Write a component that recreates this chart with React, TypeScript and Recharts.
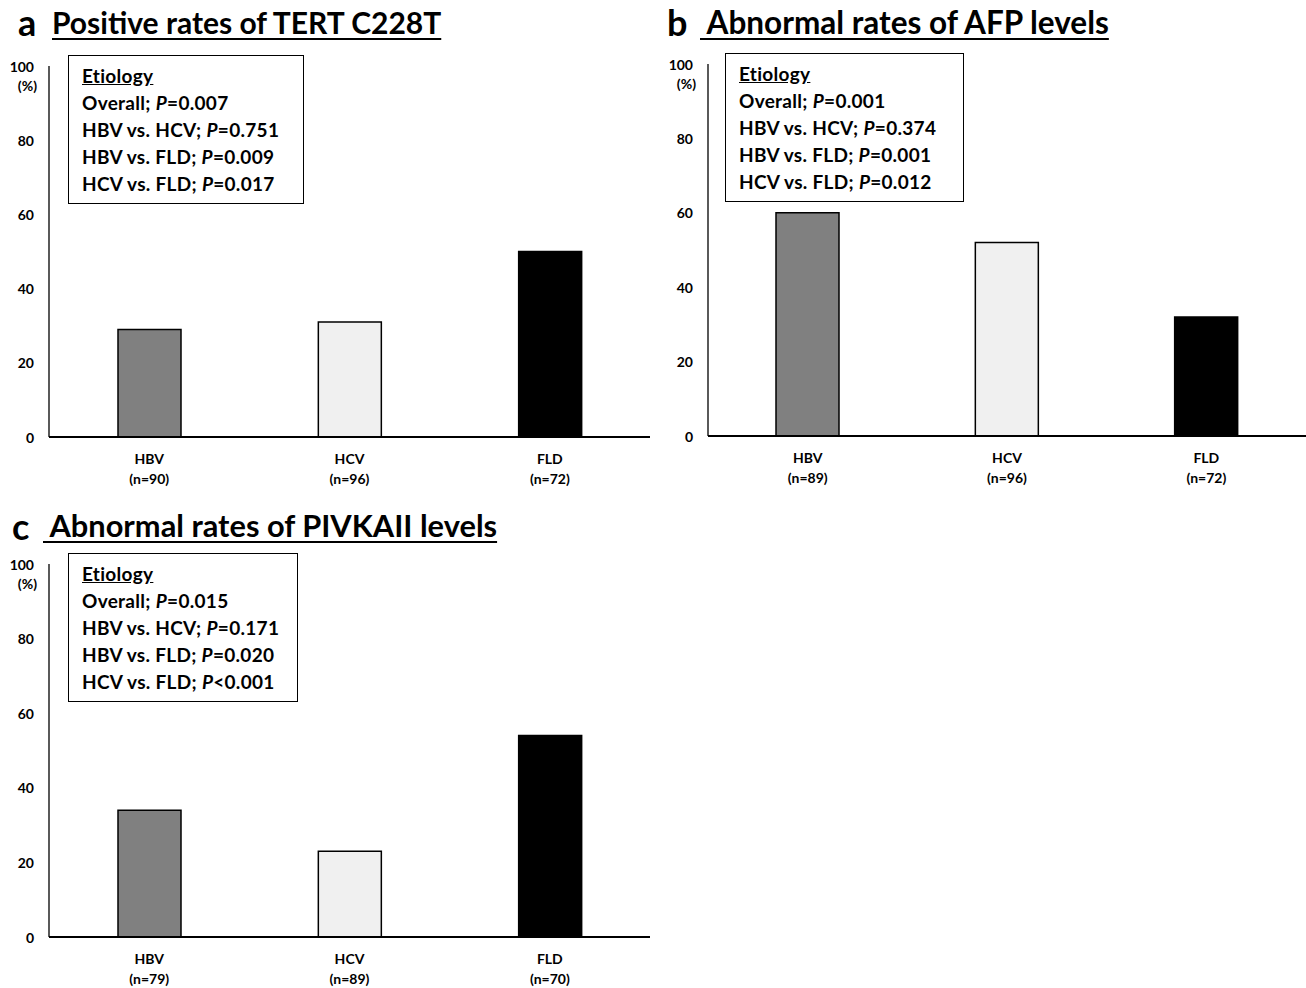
import { BarChart, Bar, XAxis, YAxis, Cell } from 'recharts';

const categories = ['HBV', 'HCV', 'FLD'];
const barColors = ['#808080', '#f0f0f0', '#000000'];
const yTicks = [0, 20, 40, 60, 80, 100];

// panel a: TERT C228T
const tertN = [90, 96, 72];
const tertRates = [29, 31, 50];
const tertP = [
  ['Overall; ', '=0.007'],
  ['HBV vs. HCV; ', '=0.751'],
  ['HBV vs. FLD; ', '=0.009'],
  ['HCV vs. FLD; ', '=0.017'],
];

// panel b: AFP
const afpN = [89, 96, 72];
const afpRates = [60, 52, 32];
const afpP = [
  ['Overall; ', '=0.001'],
  ['HBV vs. HCV; ', '=0.374'],
  ['HBV vs. FLD; ', '=0.001'],
  ['HCV vs. FLD; ', '=0.012'],
];

// panel c: PIVKA-II
const pivkaN = [79, 89, 70];
const pivkaRates = [34, 23, 54];
const pivkaP = [
  ['Overall; ', '=0.015'],
  ['HBV vs. HCV; ', '=0.171'],
  ['HBV vs. FLD; ', '=0.020'],
  ['HCV vs. FLD; ', '<0.001'],
];

const FONT = 'Lato, "Open Sans", sans-serif';

function YTick(props: any) {
  const { x, y, payload } = props;
  const v = payload.value;
  return (
    <g>
      <text x={x} y={y} textAnchor="end" dominantBaseline="central" fontSize={14} fontWeight={700} fill="#000" fontFamily={FONT}>
        {v}
      </text>
      {v === 100 && (
        <text x={x + 3} y={y + 19} textAnchor="end" dominantBaseline="central" fontSize={14} fontWeight={700} fill="#000" fontFamily={FONT}>
          (%)
        </text>
      )}
    </g>
  );
}

function makeXTick(ns: number[]) {
  return function XTick(props: any) {
    const { x, y, payload } = props;
    return (
      <g>
        <text x={x} y={y} textAnchor="middle" fontSize={14} fontWeight={700} fill="#000" fontFamily={FONT}>
          <tspan x={x} dy={19}>{payload.value}</tspan>
          <tspan x={x} dy={20}>(n={ns[payload.index]})</tspan>
        </text>
      </g>
    );
  };
}

interface PanelProps {
  letter: string;
  title: string;
  titleSize: number;
  titleLeft: number;
  letterLeft: number;
  rates: number[];
  ns: number[];
  pvals: string[][];
  left: number;
  top: number;
  width: number;
  axisW: number;
  plotTop: number;
  plotBottom: number;
  boxLeft: number;
  boxW: number;
}

function Panel(p: PanelProps) {
  const { letter, title, titleSize, titleLeft, letterLeft, rates, ns, pvals, left, top, width, axisW, plotTop, plotBottom, boxLeft, boxW } = p;
  const data = categories.map((c, i) => ({ name: c, value: rates[i] }));
  const height = 500;
  const xAxisH = 50;
  const shift = letter === 'c' ? 4 : 0;
  return (
    <div style={{ position: 'absolute', left, top, width, height }}>
      <div style={{ position: 'absolute', left: letterLeft, top: 2 + shift, fontSize: 36, fontWeight: 700, fontFamily: FONT, lineHeight: '40px' }}>
        {letter}
      </div>
      <div
        style={{
          position: 'absolute',
          left: titleLeft,
          top: 4 + shift,
          fontSize: titleSize,
          fontWeight: 700,
          fontFamily: FONT,
          lineHeight: '36px',
          textDecoration: 'underline',
          textDecorationThickness: 2,
          textUnderlineOffset: 4,
          whiteSpace: 'pre',
        }}
      >
        {title}
      </div>
      <BarChart
        width={width}
        height={height}
        data={data}
        margin={{ top: plotTop, right: 0, left: 0, bottom: height - plotBottom - xAxisH }}
        barSize={63}
      >
        <XAxis
          dataKey="name"
          height={xAxisH}
          axisLine={{ stroke: '#000', strokeWidth: 2 }}
          tickLine={false}
          tick={makeXTick(ns)}
          interval={0}
        />
        <YAxis
          width={axisW}
          domain={[0, 100]}
          ticks={yTicks}
          axisLine={{ stroke: '#000', strokeWidth: 1.3 }}
          tickLine={false}
          tick={<YTick />}
          tickMargin={9}
          interval={0}
        />
        <Bar dataKey="value" stroke="#000" strokeWidth={1.5} isAnimationActive={false}>
          {data.map((d, i) => (
            <Cell key={d.name} fill={barColors[i]} />
          ))}
        </Bar>
      </BarChart>
      <div
        style={{
          position: 'absolute',
          left: boxLeft,
          top: plotTop - 11,
          width: boxW,
          height: 149,
          border: '1.5px solid #000',
          background: '#fff',
          boxSizing: 'border-box',
          padding: '6px 0 0 13px',
          fontFamily: FONT,
          fontWeight: 700,
          fontSize: 19,
          letterSpacing: 0.3,
          lineHeight: '27px',
          whiteSpace: 'pre',
        }}
      >
        <div style={{ textDecoration: 'underline' }}>Etiology</div>
        {pvals.map((row) => (
          <div key={row[0]}>
            {row[0]}
            <i>P</i>
            {row[1]}
          </div>
        ))}
      </div>
    </div>
  );
}

export default function App() {
  return (
    <div style={{ position: 'absolute', left: 0, top: 0, width: 1306, height: 988, background: '#fff', overflow: 'hidden' }}>
      <Panel letter="a" title="Positive rates of TERT C228T" titleSize={30} titleLeft={52} letterLeft={18}
        rates={tertRates} ns={tertN} pvals={tertP}
        left={0} top={0} width={650} axisW={49} plotTop={66} plotBottom={437} boxLeft={68} boxW={236} />
      <Panel letter="b" title=" Abnormal rates of AFP levels" titleSize={31.5} titleLeft={40} letterLeft={7}
        rates={afpRates} ns={afpN} pvals={afpP}
        left={660} top={0} width={646} axisW={48} plotTop={64} plotBottom={436} boxLeft={65} boxW={239} />
      <Panel letter="c" title=" Abnormal rates of PIVKAII levels" titleSize={30.8} titleLeft={43} letterLeft={12}
        rates={pivkaRates} ns={pivkaN} pvals={pivkaP}
        left={0} top={500} width={650} axisW={49} plotTop={64} plotBottom={437} boxLeft={68} boxW={230} />
    </div>
  );
}
